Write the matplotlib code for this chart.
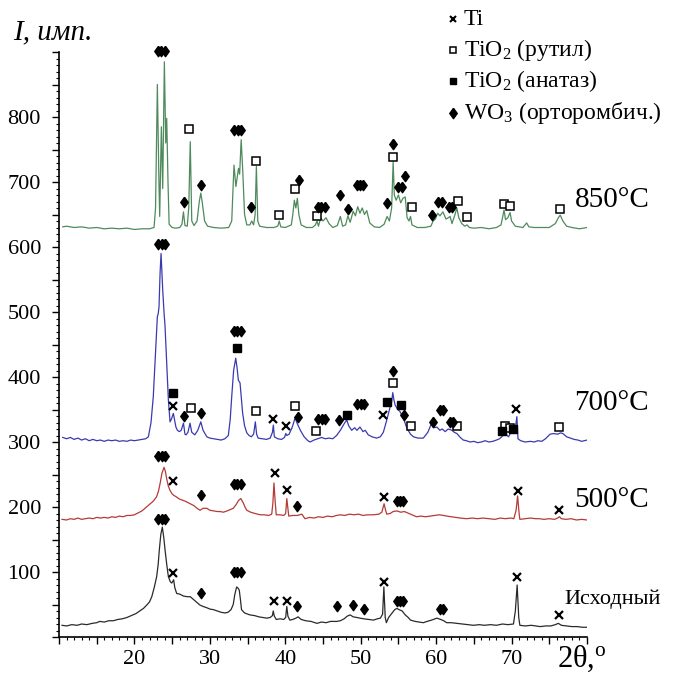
import numpy as np
import matplotlib
matplotlib.use("Agg")
import matplotlib.pyplot as plt
from matplotlib.ticker import MultipleLocator, FuncFormatter

plt.rcParams['font.family'] = ['Liberation Serif', 'DejaVu Serif']
plt.rcParams['mathtext.fontset'] = 'custom'
plt.rcParams['mathtext.rm'] = 'Liberation Serif'
plt.rcParams['mathtext.it'] = 'Liberation Serif:italic'

# ---- дифрактограммы: 2theta и интенсивность ----
tt850 = [10.5, 11, 12, 13, 14, 15, 16, 17, 18, 19, 20, 21, 22, 22.6, 22.8, 23.04, 23.25, 23.35, 23.57, 23.75,
         23.97, 24.15, 24.28, 24.45, 24.6, 25, 25.5, 26, 26.3, 26.5, 26.7, 27.0, 27.2, 27.4, 27.6, 27.9,
         28.3, 28.6, 28.8, 29.0, 29.3, 29.7, 30.5, 31.5, 32.5, 32.9, 33.2, 33.45, 33.8, 33.95, 34.15, 34.35,
         34.6, 34.9, 35.3, 35.55, 35.8, 36.0, 36.17, 36.35, 36.6, 37.5, 38.5, 39.0, 39.2, 39.4, 40.0, 40.8,
         41.0, 41.2, 41.4, 41.6, 41.8, 42.1, 42.8, 43.6, 44.0, 44.2, 44.4, 44.7, 45.0, 45.4, 45.8, 46.3,
         46.9, 47.3, 47.6, 48.0, 48.3, 48.6, 49.0, 49.3, 49.6, 49.9, 50.2, 50.5, 50.8, 51.2, 51.8, 52.5,
         53.1, 53.5, 53.8, 54.1, 54.3, 54.45, 54.7, 55.0, 55.3, 55.6, 55.9, 56.15, 56.4, 56.6, 56.8, 57.5,
         58.5, 59.3, 59.6, 59.9, 60.2, 60.5, 60.9, 61.3, 61.6, 61.85, 62.1, 62.5, 62.75, 63.0, 63.4, 63.8,
         64.1, 64.4, 65, 66, 67, 68, 68.6, 68.8, 69.0, 69.2, 69.5, 69.8, 70.0, 70.5, 71.5, 72.0, 72.3, 73,
         74, 75, 75.8, 76.2, 76.45, 76.8, 77.3, 78, 79, 80]
I850 = [631, 632, 630, 631, 629, 630, 628, 629, 628, 629, 627, 628, 628, 630, 660, 850, 700, 647, 785, 690,
        885, 760, 798, 700, 635, 630, 629, 630, 635, 654, 633, 632, 660, 762, 640, 633,
        640, 670, 683, 668, 640, 632, 630, 629, 630, 640, 726, 693, 721, 712, 765, 720,
        650, 634, 634, 640, 634, 650, 724, 640, 632, 630, 630, 632, 640, 631, 630, 634,
        650, 672, 660, 675, 650, 634, 630, 630, 634, 640, 632, 645, 640, 645, 636, 630,
        633, 647, 632, 634, 648, 638, 655, 648, 662, 652, 660, 650, 656, 637, 631, 630,
        635, 647, 640, 660, 731, 680, 672, 680, 668, 675, 677, 645, 640, 647, 634, 630,
        630, 632, 640, 643, 652, 648, 654, 643, 645, 647, 636, 650, 660, 645, 636, 632,
        634, 630, 629, 630, 628, 630, 634, 645, 657, 642, 645, 653, 640, 632, 630, 637, 631, 630,
        630, 630, 636, 645, 649, 640, 632, 630, 628, 630]

tt700 = [10.5, 11, 11.5, 12, 12.5, 13, 13.5, 14, 14.5, 15, 15.5, 16, 16.5, 17, 17.5, 18, 18.5, 19, 19.5, 20,
         20.5, 21, 21.5, 21.85, 22.2, 22.5, 22.8, 23.04, 23.15, 23.26, 23.4, 23.53, 23.65, 23.75, 23.93, 24.05,
         24.2, 24.35, 24.5, 24.72, 24.9, 25.16, 25.3, 25.5, 25.7, 25.96, 26.2, 26.5, 26.7, 26.85, 27.1, 27.37,
         27.6, 28.0, 28.4, 28.8, 29.1, 29.6, 30, 30.5, 31, 31.5, 32, 32.45, 32.7, 32.9, 33.15, 33.43, 33.6,
         33.78, 34.0, 34.2, 34.35, 34.6, 34.9, 35.2, 35.5, 35.8, 36.03, 36.2, 36.4, 37, 37.5, 38.0, 38.3,
         38.42, 38.55, 39, 39.5, 39.9, 40.06, 40.2, 40.5, 40.9, 41.3, 41.6, 42.0, 42.5, 43.0, 43.3, 43.8,
         44.3, 44.8, 45.3, 45.8, 46.3, 46.8, 47.3, 47.8, 48.15, 48.4, 48.8, 49.2, 49.5, 49.9, 50.3, 50.6,
         51.0, 51.5, 52.1, 52.6, 53.0, 53.46, 53.9, 54.1, 54.25, 54.4, 54.56, 54.9, 55.2, 55.5, 55.75, 56.0,
         56.3, 56.6, 57.0, 57.6, 58.3, 58.9, 59.4, 59.8, 60.1, 60.5, 60.8, 61.2, 61.6, 62.1, 62.4, 62.75,
         63.2, 63.6, 64, 64.5, 65, 65.5, 66, 66.5, 67, 67.5, 68, 68.4, 68.7, 69.0, 69.15, 69.4, 69.6, 69.85,
         70.0, 70.3, 70.55, 70.7, 70.85, 71.2, 71.8, 72.5, 73, 73.5, 74, 74.5, 75.1, 75.6, 76.1, 76.5, 76.8,
         77.3, 77.8, 78.3, 78.8, 79.3, 80]
I700 = [307, 305, 307, 304, 306, 303, 305, 302, 304, 302, 303, 301, 303, 302, 303, 301, 302, 301, 303, 302,
        303, 304, 305, 308, 330, 370, 440, 493, 497, 508, 560, 590, 560, 534, 498, 480,
        441, 400, 365, 331, 335, 344, 335, 323, 318, 316, 318, 329, 312, 311, 315, 329,
        315, 311, 318, 331, 318, 308, 306, 305, 304, 303, 305, 310, 335, 370, 410, 429, 415,
        395, 391, 365, 344, 325, 314, 310, 308, 312, 331, 312, 306, 305, 304, 306, 315,
        326, 308, 305, 304, 307, 313, 310, 312, 322, 337, 328, 318, 308, 302, 300, 303,
        305, 307, 305, 306, 305, 310, 318, 328, 334, 325, 318, 322, 318, 323, 316, 318,
        311, 308, 306, 308, 315, 334, 354, 362, 376, 365, 357, 350, 347, 340, 334, 325,
        318, 312, 308, 306, 306, 315, 329, 322, 323, 318, 320, 316, 320, 318, 315, 313,
        307, 303, 302, 300, 301, 299, 300, 302, 300, 301, 303, 305, 308, 312, 316, 310, 308, 314,
        318, 315, 325, 339, 305, 302, 300, 301, 300, 302, 301, 305, 312, 313, 312, 314, 313,
        308, 306, 304, 303, 301, 303]

tt500 = [10.4, 11, 11.5, 12, 12.5, 13, 13.5, 14, 14.5, 15, 15.5, 16, 16.5, 17, 17.5, 18, 18.5, 19, 19.5, 20,
         20.5, 21, 21.6, 22.0, 22.5, 22.95, 23.2, 23.4, 23.65, 23.93, 24.1, 24.3, 24.5, 24.7, 24.95, 25.2,
         25.5, 26.0, 26.5, 26.9, 27.4, 27.9, 28.3, 28.7, 29.1, 29.6, 30.0, 30.5, 31.0, 31.35, 31.8, 32.3,
         32.7, 33.1, 33.5, 33.8, 34.1, 34.4, 34.7, 34.9, 35.4, 36.0, 36.66, 37.2, 37.8, 38.2, 38.35, 38.5,
         38.65, 38.8, 39.3, 39.8, 40.05, 40.2, 40.35, 40.46, 41.0, 41.6, 42.2, 42.6, 43.2, 43.8, 44.4, 45.0,
         45.6, 46.2, 46.8, 47.3, 47.9, 48.5, 49.1, 49.7, 50.3, 50.9, 51.7, 52.4, 52.8, 53.1, 53.3, 53.45,
         53.9, 54.3, 54.8, 55.3, 55.8, 56.4, 57.0, 57.4, 58.0, 58.6, 59.2, 59.8, 60.4, 61.0, 61.4, 62.0,
         62.6, 63.2, 64.0, 64.8, 65.5, 66.2, 67.0, 67.8, 68.5, 69.2, 69.9, 70.3, 70.6, 70.8, 71.0, 71.1,
         71.8, 72.5, 73.2, 73.7, 74.3, 75.0, 75.7, 76.1, 76.35, 76.6, 77.2, 77.9, 78.6, 79.3, 80]
I500 = [181, 180, 182, 181, 183, 181, 182, 183, 182, 184, 183, 184, 183, 185, 184, 186, 185, 187, 187, 188,
        191, 194, 200, 204, 209, 216, 225, 236, 252, 261, 255, 242, 232, 226, 221, 218,
        216, 212, 210, 208, 205, 202, 198, 195, 198, 198, 195, 194, 193, 193, 192, 194,
        196, 198, 204, 210, 213, 207, 199, 195, 192, 190, 188, 188, 187, 189, 205, 237,
        210, 188, 188, 187, 190, 213, 197, 186, 187, 187, 189, 182, 184, 183, 185, 184,
        186, 185, 187, 188, 187, 189, 188, 189, 187, 188, 188, 189, 192, 205, 195, 189,
        190, 193, 194, 192, 193, 190, 187, 185, 186, 185, 186, 187, 188, 187, 186, 185,
        184, 183, 182, 183, 182, 183, 182, 181, 183, 182, 183, 182, 195, 217, 190, 181,
        182, 183, 182, 182, 181, 182, 181, 183, 185, 182, 181, 182, 180, 181, 180]

tt0 = [10.4, 11, 11.7, 12.4, 13, 13.7, 14.4, 15, 15.4, 16, 16.6, 17.2, 17.8, 18.4, 19, 19.4, 19.8, 20.2, 20.7,
       21.2, 21.7, 22.0, 22.3, 22.6, 22.95, 23.15, 23.3, 23.5, 23.7, 23.9, 24.06, 24.3, 24.5, 24.75, 24.95,
       25.2, 25.35, 25.6, 26.0, 26.5, 27.0, 27.4, 27.9, 28.3, 28.7, 29.1, 29.6, 30.0, 30.5, 31.0, 31.5, 32.0,
       32.4, 32.8, 33.1, 33.3, 33.55, 33.75, 33.9, 34.05, 34.2, 34.6, 35.3, 35.9, 36.5, 37.0, 37.55, 38.0,
       38.3, 38.4, 38.55, 38.8, 39.3, 39.8, 40.05, 40.2, 40.35, 40.6, 41.0, 41.4, 41.7, 42.1, 42.7, 43.4,
       44.2, 44.8, 45.4, 46.0, 46.8, 47.3, 47.8, 48.2, 48.6, 49.0, 49.5, 49.9, 50.4, 51.0, 51.7, 52.2, 52.6,
       52.9, 53.07, 53.25, 53.4, 53.7, 54.1, 54.5, 54.8, 55.1, 55.5, 55.9, 56.3, 56.6, 57.2, 57.8, 58.3,
       58.8, 59.4, 60.1, 60.6, 61.0, 61.4, 62.0, 62.7, 63.4, 64.2, 64.95, 65.7, 66.4, 67.2, 68.0, 68.8,
       69.5, 70.25, 70.5, 70.74, 70.95, 71.1, 71.8, 72.6, 73.2, 73.8, 74.5, 75.2, 75.8, 76.2, 76.6, 77.3,
       78.0, 78.7, 79.4, 80]
I0 = [18, 17, 19, 18, 20, 19, 21, 22, 24, 23, 25, 25, 27, 28, 30, 32, 34, 36, 40,
      44, 50, 54, 62, 75, 93, 112, 134, 158, 169, 152, 134, 110, 93, 85, 83,
      88, 76, 67, 66, 63, 62, 62, 57, 53, 49, 47, 45, 43, 42, 40, 38, 37,
      38, 42, 50, 65, 77, 75, 72, 58, 42, 37, 34, 33, 31, 30, 29, 30,
      33, 40, 32, 27, 28, 27, 30, 47, 32, 26, 27, 29, 31, 27, 25, 24,
      21, 23, 22, 24, 24, 25, 28, 32, 34, 31, 30, 29, 28, 27, 26, 28, 29,
      35, 77, 30, 22, 30, 36, 42, 44, 42, 40, 34, 30, 26, 24, 23, 22,
      24, 26, 29, 27, 25, 22, 22, 21, 20, 19, 18, 19, 18, 19, 18, 20,
      19, 20, 40, 80, 30, 18, 17, 18, 17, 16, 17, 17, 19, 21, 18, 17,
      16, 16, 15, 15]

curve_labels = ['850°C', '700°C', '500°C', 'Исходный']
curve_label_y = [672, 360, 211, 58]

# ---- отметки фаз: (2theta, I) и число ромбов ----
ti_marks = [(25.08, 356), (38.42, 335), (40.06, 324), (53.0, 341), (70.6, 351),
            (25.08, 240), (38.65, 252), (40.2, 226), (53.15, 216), (70.9, 225), (76.3, 195),
            (25.16, 99), (38.5, 55), (40.2, 55), (53.15, 85), (70.7, 93), (76.3, 34)]
rutile_marks = [(27.28, 782), (36.13, 733), (39.14, 649), (41.26, 689), (44.17, 647), (54.34, 739),
                (56.77, 662), (62.9, 671), (64.07, 646), (69.0, 666), (69.8, 663), (76.45, 658),
                (27.46, 353), (36.08, 348), (41.26, 355), (44.09, 317), (54.34, 391), (56.68, 324),
                (62.75, 325), (69.15, 325), (69.8, 322), (76.3, 323)]
anatase_marks = [(25.08, 375), (33.57, 445), (48.15, 341), (53.46, 362), (55.3, 357), (68.7, 317), (70.15, 320)]
wo3_marks = [(23.55, 901, 3), (26.58, 670, 1), (28.83, 696, 1), (33.7, 780, 3), (35.46, 661, 1),
             (41.87, 703, 1), (44.75, 662, 3), (47.27, 680, 1), (48.37, 658, 1), (49.9, 695, 3),
             (53.46, 668, 1), (54.34, 758, 1), (55.2, 692, 2), (55.9, 710, 1), (59.5, 649, 1),
             (60.5, 670, 2), (61.9, 661, 2),
             (23.6, 605, 3), (26.58, 340, 1), (28.8, 345, 1), (33.65, 471, 3), (41.7, 339, 1),
             (44.84, 335, 3), (47.15, 334, 1), (50.0, 359, 3), (54.34, 410, 1), (55.8, 341, 1),
             (59.55, 331, 1), (60.75, 350, 2), (62.0, 331, 2),
             (23.6, 279, 3), (28.83, 218, 1), (33.65, 235, 3), (41.5, 202, 1), (55.2, 210, 3),
             (23.6, 181, 3), (28.8, 68, 1), (33.65, 100, 3), (41.5, 48, 1), (46.9, 48, 1),
             (49.03, 50, 1), (50.45, 43, 1), (55.2, 56, 3), (60.7, 43, 2)]

legend_labels = ['Ti', 'TiO$_2$ (рутил)', 'TiO$_2$ (анатаз)', 'WO$_3$ (орторомбич.)']

fig = plt.figure(figsize=(6.77, 6.75), dpi=100)
ax = fig.add_axes([59/677, 38/675, 528/677, 585/675])

colors = ['#4e8a5c', '#3a3ab0', '#b53a36', '#2a2a2a']
for tt, ii, c in zip([tt850, tt700, tt500, tt0], [I850, I700, I500, I0], colors):
    ax.plot(tt, ii, color=c, lw=0.9)

# ромб пошире, чем 'd'
diamond = [(0, 1), (0.72, 0), (0, -1), (-0.72, 0), (0, 1)]

# отметки
kw = dict(clip_on=False, zorder=5, linestyle='none')
ax.plot([p[0] for p in ti_marks], [p[1] for p in ti_marks], marker='x', ms=5.5, mew=1.6, color='black', **kw)
ax.plot([p[0] for p in rutile_marks], [p[1] for p in rutile_marks], marker='s', ms=5.2, mew=1.1,
        mfc='white', mec='black', **kw)
ax.plot([p[0] for p in anatase_marks], [p[1] for p in anatase_marks], marker='s', ms=5.5,
        color='black', **kw)
dx = 0.45
wx, wy = [], []
for x, y, n in wo3_marks:
    for k in range(n):
        wx.append(x + (k - (n - 1) / 2) * dx)
        wy.append(y)
ax.plot(wx, wy, marker=diamond, ms=7.5, color='black', **kw)

ax.set_xlim(10, 80)
ax.set_ylim(0, 900)
ax.spines['top'].set_visible(False)
ax.spines['right'].set_visible(False)
ax.xaxis.set_major_locator(MultipleLocator(5))
ax.xaxis.set_minor_locator(MultipleLocator(1))
ax.yaxis.set_major_locator(MultipleLocator(50))
ax.yaxis.set_minor_locator(MultipleLocator(10))
ax.xaxis.set_major_formatter(FuncFormatter(lambda v, p: '%d' % v if v % 10 == 0 and 20 <= v <= 70 else ''))
ax.yaxis.set_major_formatter(FuncFormatter(lambda v, p: '%d' % v if v % 100 == 0 and 100 <= v <= 800 else ''))
ax.tick_params(which='major', length=5, width=1, labelsize=16)
ax.tick_params(which='minor', length=2.5, width=0.8)
ax.tick_params(axis='y', pad=8)
ax.tick_params(axis='x', pad=4)
for s in ['left', 'bottom']:
    ax.spines[s].set_linewidth(1.2)

for lab, y in zip(curve_labels, curve_label_y):
    if lab == 'Исходный':
        ax.text(83.4, y, lab, fontsize=16, ha='center', va='center', clip_on=False)
    else:
        ax.text(83.3, y, lab, fontsize=21, ha='center', va='center', clip_on=False)

fig.text(13/677, 1 - 32/675, 'I, имп.', fontsize=21, style='italic', ha='left', va='center')
fig.text(557/677, 1 - 659/675, '2θ,$^{\\mathrm{o}}$', fontsize=22, ha='left', va='center')

# легенда
leg_y = [19, 50, 81, 113]
leg_m = [dict(marker='x', ms=5, mew=1.5, color='black'),
         dict(marker='s', ms=5, mew=1.1, mfc='white', mec='black'),
         dict(marker='s', ms=5, color='black'),
         dict(marker=diamond, ms=7.5, color='black')]
for lab, y, m in zip(legend_labels, leg_y, leg_m):
    fig.add_artist(plt.Line2D([452.7/677], [1 - y/675], transform=fig.transFigure, linestyle='none', **m))
    fig.text(464/677, 1 - (y + 6)/675, lab, fontsize=17, ha='left', va='baseline')

fig.savefig('out.png', dpi=100)
